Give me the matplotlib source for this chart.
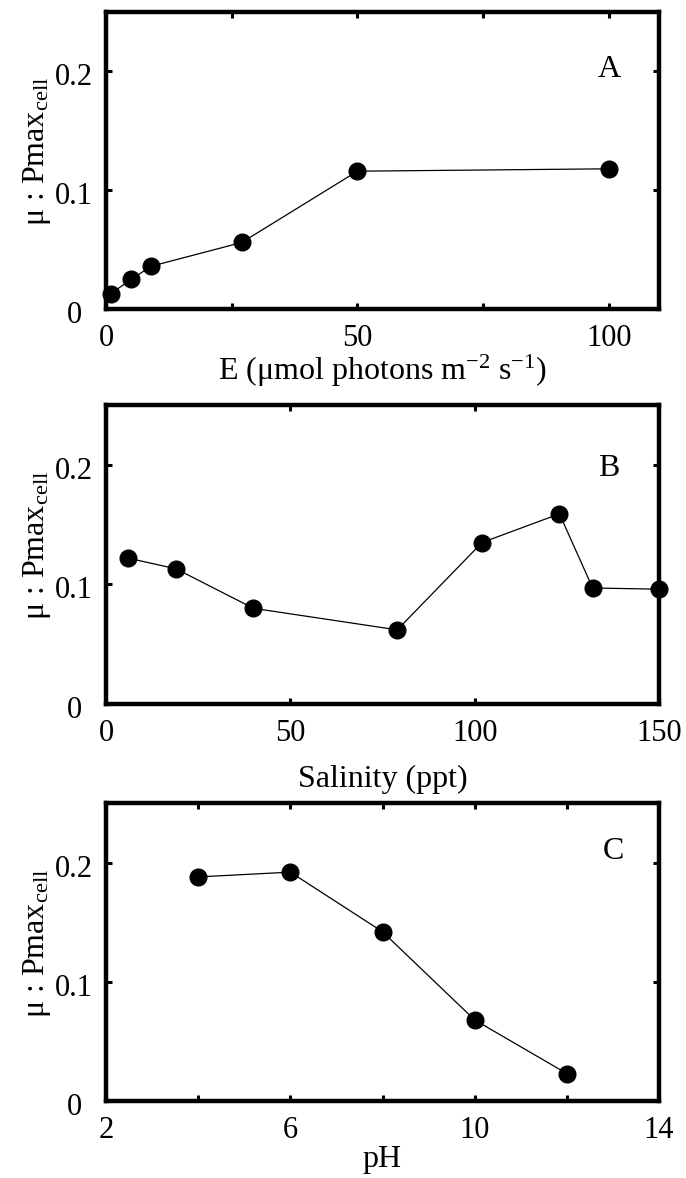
import matplotlib
matplotlib.use('Agg')
import matplotlib.pyplot as plt
from matplotlib.transforms import ScaledTranslation

# panel A: light
light_E = [1, 5, 9, 27, 50, 100]
light_mu = [0.013, 0.025, 0.036, 0.056, 0.116, 0.118]

# panel B: salinity
sal_ppt = [6, 19, 40, 79, 102, 123, 132, 150]
sal_mu = [0.122, 0.113, 0.080, 0.062, 0.135, 0.159, 0.097, 0.096]

# panel C: pH
ph = [4, 6, 8, 10, 12]
ph_mu = [0.188, 0.192, 0.142, 0.068, 0.023]

plt.rcParams['font.family'] = ['Liberation Serif', 'DejaVu Serif']
plt.rcParams['mathtext.fontset'] = 'custom'
plt.rcParams['mathtext.rm'] = 'Liberation Serif'
plt.rcParams['mathtext.it'] = 'Liberation Serif:italic'
plt.rcParams['mathtext.bf'] = 'Liberation Serif:bold'

fig = plt.figure(figsize=(6.86, 11.78), dpi=100)

W, H = 686, 1178
panels = [
    (light_E, light_mu, (0, 110), [0, 25, 50, 75, 100], ['0', '', '50', '', '100'],
     'E (μmol photons m$^{-2}$ s$^{-1}$)', 0, 'A', (0.91, 0.805), (106, 12, 659, 309)),
    (sal_ppt, sal_mu, (0, 150), [0, 50, 100, 150], ['0', '50', '100', '150'],
     'Salinity (ppt)', 12, 'B', (0.91, 0.786), (106, 405, 659, 704)),
    (ph, ph_mu, (2, 14), [2, 4, 6, 8, 10, 12, 14], ['2', '', '6', '', '10', '', '14'],
     'pH', 0, 'C', (0.918, 0.836), (106, 803, 659, 1101)),
]

for x, y, xlim, xt, xtl, xlab, lpad, letter, lpos, box in panels:
    l, t, r, b = box
    ax = fig.add_axes([l / W, 1 - b / H, (r - l) / W, (b - t) / H])
    ax.plot(x, y, '-o', color='black', lw=0.9, markersize=12, clip_on=False, zorder=3)
    ax.set_xlim(*xlim)
    ax.set_ylim(0, 0.25)
    ax.set_xticks(xt)
    ax.set_xticklabels(xtl)
    ax.set_yticks([0, 0.1, 0.2])
    ax.set_yticklabels(['0', '0.1', '0.2'])
    ax.tick_params(direction='in', length=4.5, width=2.2, top=True, right=True,
                   labelsize=22)
    ax.tick_params(axis='x', pad=11)
    ax.tick_params(axis='y', pad=23)
    for lab in ax.get_yticklabels():
        lab.set_horizontalalignment('center')
        lab.set_transform(lab.get_transform() + ScaledTranslation(0, -3 / 100, fig.dpi_scale_trans))
    for s in ax.spines.values():
        s.set_linewidth(3.2)
    ax.set_xlabel(xlab, fontsize=23, labelpad=lpad)
    ax.set_ylabel('μ : Pmax$_{\\mathrm{cell}}$', fontsize=23)
    ax.yaxis.set_label_coords(-0.096, 0.53)
    ax.text(lpos[0], lpos[1], letter, transform=ax.transAxes, fontsize=23,
            ha='center', va='center')

fig.savefig('out.png', dpi=100)
